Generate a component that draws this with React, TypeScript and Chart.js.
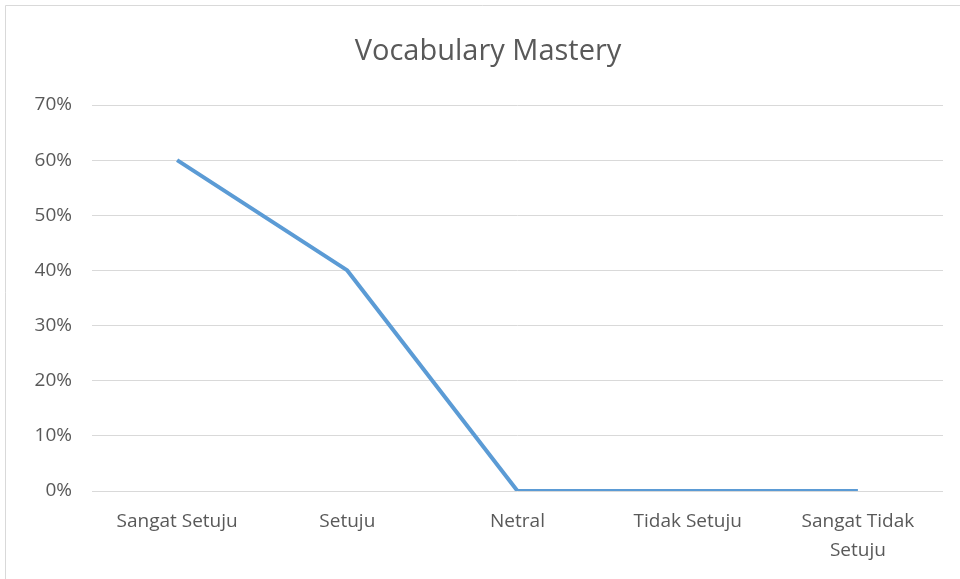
import React, { useEffect, useRef } from "react";
import { Chart, registerables } from "chart.js";

Chart.register(...registerables);

const categories: (string | string[])[] = [
  "Sangat Setuju",
  "Setuju",
  "Netral",
  "Tidak Setuju",
  ["Sangat Tidak", "Setuju"],
];
const seriesValues = [60, 40, 0, 0, 0];
const seriesLabel = "Vocabulary Mastery";
const chartTitle = "Vocabulary Mastery";
const yTicks = [0, 10, 20, 30, 40, 50, 60, 70];

const FONT = "'Open Sans', 'Liberation Sans', sans-serif";

const borderPlugin = {
  id: "outerBorder",
  beforeDraw(chart: any) {
    const ctx = chart.ctx;
    ctx.save();
    ctx.fillStyle = "#ffffff";
    ctx.fillRect(0, 0, chart.width, chart.height);
    ctx.strokeStyle = "#d9d9d9";
    ctx.lineWidth = 1;
    ctx.beginPath();
    ctx.moveTo(5.5, chart.height);
    ctx.lineTo(5.5, 5.5);
    ctx.lineTo(chart.width, 5.5);
    ctx.stroke();
    ctx.restore();
  },
  afterDraw(chart: any) {
    const ctx = chart.ctx;
    ctx.save();
    ctx.fillStyle = "#595959";
    ctx.font = "normal 29px " + FONT;
    ctx.textAlign = "center";
    ctx.textBaseline = "middle";
    ctx.fillText(chartTitle, 488, 52);
    ctx.restore();
  },
};

export default function App() {
  const ref = useRef<HTMLCanvasElement | null>(null);
  useEffect(() => {
    document.body.style.margin = "0";
    if (!ref.current) return;
    const chart = new Chart(ref.current, {
      type: "line",
      data: {
        labels: categories,
        datasets: [
          {
            label: seriesLabel,
            data: seriesValues,
            borderColor: "#5B9BD5",
            borderWidth: 4,
            pointRadius: 0,
            pointHoverRadius: 0,
            tension: 0,
            fill: false,
            borderCapStyle: "butt",
            borderJoinStyle: "round",
          },
        ],
      },
      options: {
        responsive: false,
        animation: false,
        maintainAspectRatio: false,
        layout: { padding: { left: 0, right: 17, top: 105, bottom: 0 } },
        plugins: {
          legend: { display: false },
          tooltip: { enabled: false },
          title: { display: false },
        },
        scales: {
          x: {
            grid: { display: false, drawTicks: false },
            border: { display: false },
            offset: true,
            ticks: {
              color: "#595959",
              font: { family: FONT, size: 19, lineHeight: 1.53 },
              padding: 16,
              maxRotation: 0,
              autoSkip: false,
            },
            afterFit: (s: any) => {
              s.height = 88;
            },
          },
          y: {
            min: 0,
            max: 70,
            afterBuildTicks: (s: any) => {
              s.ticks = yTicks.map((v) => ({ value: v }));
            },
            grid: { color: "#d9d9d9", lineWidth: 1, drawTicks: false },
            border: { display: false },
            ticks: {
              color: "#595959",
              font: { family: FONT, size: 19 },
              padding: 20,
              callback: (v: any) => v + "%",
            },
            afterFit: (s: any) => {
              s.width = 92;
            },
          },
        },
      },
      plugins: [borderPlugin],
    });
    return () => chart.destroy();
  }, []);
  return (
    <div style={{ position: "relative", width: 960, height: 579 }}>
      <canvas ref={ref} width={960} height={579} style={{ display: "block" }} />
    </div>
  );
}
